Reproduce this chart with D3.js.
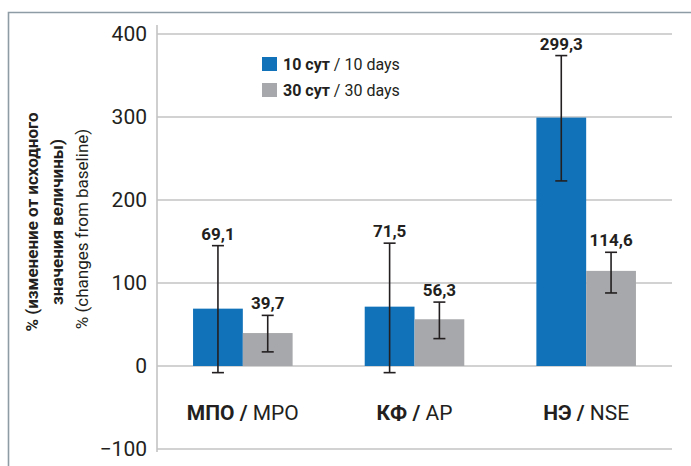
<!DOCTYPE html>
<html lang="ru">
  <head>
    <meta charset="utf-8">
    <title>bar_chart</title>
    <script src="https://d3js.org/d3.v7.min.js"></script>
    <style>
      body {margin:0; background:white;}
      svg {display:block;}
      .cond {font-family:"Liberation Sans Narrow","Roboto","Liberation Sans",sans-serif;}
      .grid line {stroke:#c3c3c5; stroke-width:1.6;}
    </style>
  </head>
  <body>
    <script>
      // data
      var categories = ['МПО', 'КФ', 'НЭ'];
      var categoriesEn = ['MPO', 'AP', 'NSE'];
      var series = ['10 сут', '30 сут'];
      var seriesEn = ['10 days', '30 days'];
      var values10 = [69.1, 71.5, 299.3];
      var values30 = [39.7, 56.3, 114.6];
      var err10 = [[-8, 145], [-8, 148], [223, 374]];
      var err30 = [[17, 61], [33, 77], [88, 137]];
      var yTicks = [-100, 0, 100, 200, 300, 400];

      const width = 691;
      const height = 466;
      const margin = {top: 34, left: 157, bottom: 17, right: 19};
      const colors = ['#1172b9', '#a7a8ab'];

      var data = [];
      for (var i = 0; i < categories.length; i++) {
        data.push({cat: categories[i], en: categoriesEn[i], s: 0, value: values10[i], err: err10[i]});
        data.push({cat: categories[i], en: categoriesEn[i], s: 1, value: values30[i], err: err30[i]});
      }

      const svg = d3.select('body').append('svg').attr('width', width).attr('height', height);

      // frame
      svg.append('path')
        .attr('d', `M8.5,${height} V12.5 H${width}`)
        .attr('fill', 'none').attr('stroke', '#8e9ca6').attr('stroke-width', 1.6);

      const x = d3.scaleBand()
        .domain(categories)
        .range([margin.left, width - margin.right])
        .paddingInner(0.42)
        .paddingOuter(0.21);

      const xs = d3.scaleBand()
        .domain([0, 1])
        .range([0, x.bandwidth()]);

      const y = d3.scaleLinear()
        .domain([-100, 400])
        .range([height - margin.bottom, margin.top]);

      // gridlines
      svg.append('g').attr('class', 'grid')
        .selectAll('line').data(yTicks).enter().append('line')
        .attr('x1', margin.left).attr('x2', width - margin.right)
        .attr('y1', d => y(d)).attr('y2', d => y(d));

      // y axis
      const yAxis = g => g
        .attr('transform', `translate(${margin.left}, 0)`)
        .call(d3.axisLeft(y).tickValues(yTicks).tickSize(0).tickPadding(10))
        .call(g => g.select('.domain').remove())
        .call(g => g.selectAll('text')
          .attr('class', 'cond')
          .style('font-size', '21px').attr('fill', '#231f20'));
      svg.append('g').call(yAxis);

      svg.append('line')
        .attr('x1', margin.left).attr('x2', margin.left)
        .attr('y1', 25).attr('y2', y(-100) + 3)
        .attr('stroke', '#c3c3c5').attr('stroke-width', 1.6);

      // bars
      svg.append('g')
        .selectAll('rect').data(data).enter().append('rect')
        .attr('x', d => x(d.cat) + xs(d.s))
        .attr('y', d => y(d.value))
        .attr('width', xs.bandwidth())
        .attr('height', d => y(0) - y(d.value))
        .attr('fill', d => colors[d.s]);

      // error bars
      const eb = svg.append('g').attr('stroke', '#231f20').attr('stroke-width', 1.6);
      const cx = d => x(d.cat) + xs(d.s) + xs.bandwidth() / 2;
      eb.selectAll('.v').data(data).enter().append('line')
        .attr('x1', cx).attr('x2', cx)
        .attr('y1', d => y(d.err[0])).attr('y2', d => y(d.err[1]));
      eb.selectAll('.t').data(data).enter().append('line')
        .attr('x1', d => cx(d) - 6).attr('x2', d => cx(d) + 6)
        .attr('y1', d => y(d.err[1])).attr('y2', d => y(d.err[1]));
      eb.selectAll('.b').data(data).enter().append('line')
        .attr('x1', d => cx(d) - 6).attr('x2', d => cx(d) + 6)
        .attr('y1', d => y(d.err[0])).attr('y2', d => y(d.err[0]));

      // value labels
      svg.append('g').selectAll('text').data(data).enter().append('text')
        .attr('class', 'cond')
        .attr('x', cx)
        .attr('y', d => y(d.err[1]) - 6)
        .attr('text-anchor', 'middle')
        .style('font-size', '17px').style('font-weight', 'bold')
        .attr('fill', '#231f20')
        .text(d => d.value.toFixed(1).replace('.', ','));

      // category labels
      const cl = svg.append('g').selectAll('text').data(categories).enter().append('text')
        .attr('class', 'cond')
        .attr('x', d => x(d) + x.bandwidth() / 2)
        .attr('y', 420)
        .attr('text-anchor', 'middle')
        .style('font-size', '21px').attr('fill', '#231f20');
      cl.append('tspan').style('font-weight', 'bold').text(d => d + ' / ');
      cl.append('tspan').text((d, i) => categoriesEn[i]);

      // legend
      const lg = svg.append('g').selectAll('g').data(series).enter().append('g')
        .attr('transform', (d, i) => `translate(262, ${57 + i * 26})`);
      lg.append('rect').attr('width', 15).attr('height', 14).attr('fill', (d, i) => colors[i]);
      const lt = lg.append('text').attr('class', 'cond')
        .attr('x', 21).attr('y', 13)
        .style('font-size', '16px').attr('fill', '#231f20');
      lt.append('tspan').style('font-weight', 'bold').text(d => d);
      lt.append('tspan').text((d, i) => ' / ' + seriesEn[i]);

      // y axis title
      const yt = svg.append('text').attr('class', 'cond')
        .attr('transform', 'translate(0, 222) rotate(-90)')
        .attr('text-anchor', 'middle')
        .style('font-size', '17px').attr('fill', '#231f20');
      yt.append('tspan').attr('x', 0).attr('y', 38).style('font-weight', 'bold').text('% (изменение от исходного');
      yt.append('tspan').attr('x', 0).attr('y', 63).style('font-weight', 'bold').text('значения величины)');
      yt.append('tspan').attr('x', -7).attr('y', 88).text('% (changes from baseline)');
    </script>
  </body>
</html>
